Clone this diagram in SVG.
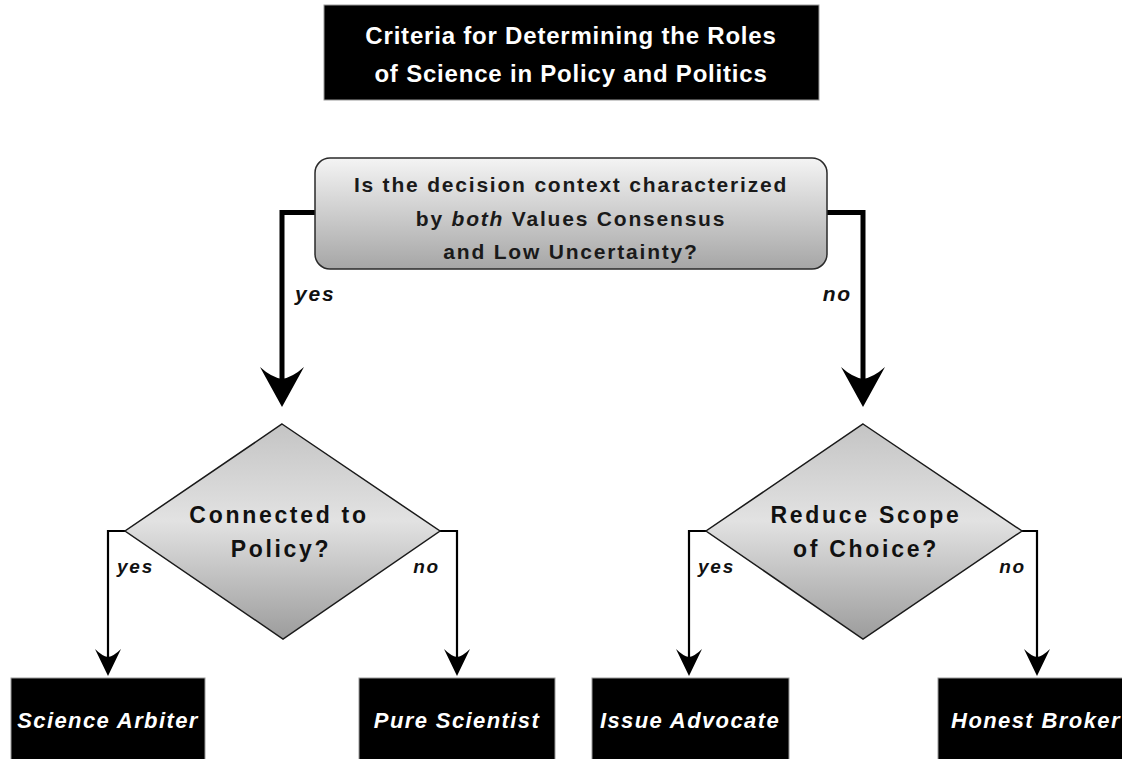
<svg xmlns="http://www.w3.org/2000/svg" width="1122" height="759" viewBox="0 0 1122 759">
  <defs>
    <linearGradient id="gBox" x1="0" y1="0" x2="0" y2="1">
      <stop offset="0" stop-color="#f4f4f4"/>
      <stop offset="1" stop-color="#a6a6a6"/>
    </linearGradient>
    <linearGradient id="gDia" x1="0" y1="0" x2="0" y2="1">
      <stop offset="0" stop-color="#c4c4c4"/>
      <stop offset="0.45" stop-color="#e2e2e2"/>
      <stop offset="1" stop-color="#9c9c9c"/>
    </linearGradient>
    <style>
      .title { font-family: "Liberation Sans", Arial, sans-serif; font-weight: bold; font-size: 24px; fill: #ffffff; letter-spacing: 0.8px; text-anchor: middle; }
      .q { font-family: "Liberation Sans", Arial, sans-serif; font-weight: bold; font-size: 21px; fill: #1a1a1a; letter-spacing: 1.8px; text-anchor: middle; }
      .dq { font-family: "Liberation Sans", Arial, sans-serif; font-weight: bold; font-size: 23px; fill: #111111; letter-spacing: 2.7px; text-anchor: middle; }
      .role { font-family: "Liberation Sans", Arial, sans-serif; font-weight: bold; font-style: italic; font-size: 22px; fill: #ffffff; letter-spacing: 1.4px; text-anchor: middle; }
      .lblBig { font-family: "Liberation Sans", Arial, sans-serif; font-weight: bold; font-style: italic; font-size: 21px; fill: #111111; letter-spacing: 1.8px; }
      .lbl { font-family: "Liberation Sans", Arial, sans-serif; font-weight: bold; font-style: italic; font-size: 19px; fill: #111111; letter-spacing: 1.8px; }
      .thick { fill: none; stroke: #000000; stroke-width: 5; stroke-linejoin: miter; }
      .thin { fill: none; stroke: #000000; stroke-width: 2.2; stroke-linejoin: miter; }
      .head { fill: #000000; }
      .blk { fill: #000000; stroke: #9a9a9a; stroke-width: 1; }
    </style>
  </defs>
  <rect width="1122" height="759" fill="#ffffff"/>

  <g id="title">
    <rect class="blk" x="324" y="5" width="495" height="95"/>
    <text class="title" x="571" y="44">Criteria for Determining the Roles</text>
    <text class="title" x="571" y="82">of Science in Policy and Politics</text>
  </g>

  <g id="connectors">
    <path class="thick" d="M315,212.5 H282 V385"/>
    <path class="head" d="M282,407 L260,367 Q271,377 282,379 Q293,377 304,367 Z"/>
    <path class="thick" d="M827,212.5 H863 V385"/>
    <path class="head" d="M863,407 L841,367 Q852,377 863,379 Q874,377 885,367 Z"/>
    <text class="lblBig" x="295" y="301">yes</text>
    <text class="lblBig" x="852" y="301" text-anchor="end">no</text>

    <path class="thin" d="M125,531 H108 V660"/>
    <path class="head" d="M108,676 L95,649 Q102,656 108,657 Q114,656 121,649 Z"/>
    <path class="thin" d="M440,531 H457 V660"/>
    <path class="head" d="M457,676 L444,649 Q451,656 457,657 Q463,656 470,649 Z"/>
    <text class="lbl" x="117" y="573">yes</text>
    <text class="lbl" x="440" y="573" text-anchor="end">no</text>

    <path class="thin" d="M706,531 H689 V660"/>
    <path class="head" d="M689,676 L676,649 Q683,656 689,657 Q695,656 702,649 Z"/>
    <path class="thin" d="M1022,531 H1037 V660"/>
    <path class="head" d="M1037,676 L1024,649 Q1031,656 1037,657 Q1043,656 1050,649 Z"/>
    <text class="lbl" x="698" y="573">yes</text>
    <text class="lbl" x="1026" y="573" text-anchor="end">no</text>
  </g>

  <g id="q-main">
    <rect x="315" y="158" width="512" height="111" rx="15" ry="15" fill="url(#gBox)" stroke="#2a2a2a" stroke-width="1.5"/>
    <text class="q" x="571" y="192">Is the decision context characterized</text>
    <text class="q" x="571" y="226">by <tspan font-style="italic">both</tspan> Values Consensus</text>
    <text class="q" x="571" y="259">and Low Uncertainty?</text>
  </g>

  <g id="q-connected">
    <polygon points="282,424 440,531 283,639 125,531" fill="url(#gDia)" stroke="#1a1a1a" stroke-width="1.5"/>
    <text class="dq" x="279" y="523">Connected to</text>
    <text class="dq" x="281" y="557">Policy?</text>
  </g>

  <g id="q-scope">
    <polygon points="863,424 1022,531 863,639 706,531" fill="url(#gDia)" stroke="#1a1a1a" stroke-width="1.5"/>
    <text class="dq" x="866" y="523">Reduce Scope</text>
    <text class="dq" x="866" y="557">of Choice?</text>
  </g>

  <g id="role-arbiter">
    <rect class="blk" x="11" y="678" width="194" height="90"/>
    <text class="role" x="108" y="728">Science Arbiter</text>
  </g>
  <g id="role-pure">
    <rect class="blk" x="359" y="678" width="196" height="90"/>
    <text class="role" x="457" y="728">Pure Scientist</text>
  </g>
  <g id="role-advocate">
    <rect class="blk" x="592" y="678" width="197" height="90"/>
    <text class="role" x="690" y="728">Issue Advocate</text>
  </g>
  <g id="role-broker">
    <rect class="blk" x="938" y="678" width="200" height="90"/>
    <text class="role" x="1036" y="728">Honest Broker</text>
  </g>
</svg>
